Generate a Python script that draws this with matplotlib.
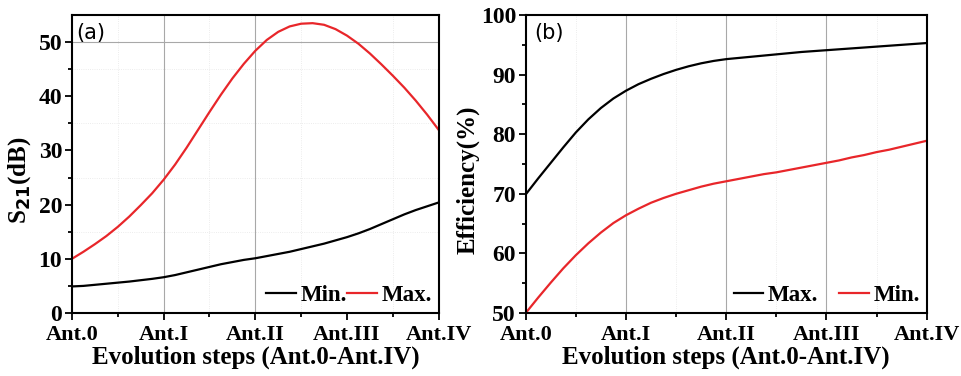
import numpy as np
import matplotlib.pyplot as plt

plt.rcParams['font.family'] = 'Liberation Serif'
plt.rcParams['font.weight'] = 'bold'

# evolution steps (values read every eighth of a step)
steps = np.arange(0, 4.001, 0.125)
step_labels = ['Ant.0', 'Ant.I', 'Ant.II', 'Ant.III', 'Ant.IV']

# (a) S21 (dB)
s21_min = [4.9, 5.0, 5.2, 5.4, 5.6, 5.8, 6.05, 6.3, 6.6, 7.0, 7.5, 8.0, 8.5, 9.0, 9.4, 9.8,
		   10.1, 10.5, 10.9, 11.3, 11.8, 12.3, 12.8, 13.4, 14.0, 14.7, 15.5, 16.4, 17.3, 18.2, 19.0, 19.7, 20.4]
s21_max = [10.0, 11.3, 12.7, 14.2, 15.9, 17.8, 19.9, 22.1, 24.6, 27.4, 30.5, 33.8, 37.1, 40.3, 43.3, 46.0,
		   48.4, 50.4, 51.9, 52.9, 53.4, 53.5, 53.2, 52.4, 51.2, 49.7, 47.9, 45.9, 43.8, 41.6, 39.2, 36.6, 33.8]

# (b) Efficiency (%)
eff_max = [69.9, 72.6, 75.2, 77.8, 80.3, 82.5, 84.4, 86.0, 87.3, 88.4, 89.3, 90.1, 90.8, 91.4, 91.9, 92.3,
		   92.6, 92.8, 93.0, 93.2, 93.4, 93.6, 93.8, 93.95, 94.1, 94.25, 94.4, 94.55, 94.7, 94.85, 95.0, 95.15, 95.3]
eff_min = [50.0, 52.6, 55.1, 57.5, 59.7, 61.7, 63.5, 65.1, 66.4, 67.5, 68.5, 69.3, 70.0, 70.6, 71.2, 71.7,
		   72.1, 72.5, 72.9, 73.3, 73.6, 74.0, 74.4, 74.8, 75.2, 75.6, 76.1, 76.5, 77.0, 77.4, 77.9, 78.4, 78.9]

fig = plt.figure(figsize=(9.62, 3.76), dpi=100)
ax1 = fig.add_axes([0.0748, 0.1676, 0.3812, 0.7924])
ax2 = fig.add_axes([0.5465, 0.1676, 0.4168, 0.7924])

grid_col = '#a8a8a8'
faint_col = '#e6e6e6'

def style(ax, ylim, yticks, ylabel, tag, tagx, labx):
	ax.set_xlim(0, 4)
	ax.set_ylim(*ylim)
	ax.set_xticks(range(5))
	ax.set_xticklabels(step_labels)
	ax.set_xticks(np.arange(0.5, 4, 1), minor=True)
	ax.set_yticks(yticks)
	ax.set_yticks(np.array(yticks[:-1]) + 5, minor=True)
	ax.tick_params(which='both', direction='out', top=False, right=False, width=1.3)
	ax.tick_params(axis='x', labelsize=16, pad=4)
	ax.tick_params(axis='y', labelsize=17, pad=2)
	ax.tick_params(which='major', length=5)
	ax.tick_params(which='minor', length=3)
	for sp in ax.spines.values():
		sp.set_linewidth(1.5)
	ax.set_xlabel('Evolution steps (Ant.0-Ant.IV)', fontsize=18, fontweight='bold', labelpad=0)
	ax.set_ylabel(ylabel, fontsize=18, fontweight='bold')
	ax.yaxis.set_label_coords(labx, 0.446)
	ax.text(tagx, 0.94, tag, transform=ax.transAxes, fontsize=15, fontweight='normal',
			family='DejaVu Sans', va='center')

# panel (a)
for xg in [0.5, 1.5, 2.5, 3.5]:
	ax1.axvline(xg, color=faint_col, lw=0.6, ls=':', zorder=0)
for yg in [15, 25, 35, 45]:
	ax1.axhline(yg, color=faint_col, lw=0.6, ls=':', zorder=0)
for xg in [1, 2]:
	ax1.axvline(xg, color=grid_col, lw=0.8, zorder=0)
ax1.axhline(50, color=grid_col, lw=0.8, zorder=0)
ax1.plot(steps, s21_min, color='black', lw=1.6, label='Min.')
ax1.plot(steps, s21_max, color='#e8262a', lw=1.6, label='Max.')
style(ax1, (0, 55), [0, 10, 20, 30, 40, 50], 'S$_{\\mathbf{21}}$(dB)', '(a)', 0.012, -0.106)
ax1.legend(loc='lower right', ncol=2, frameon=False, fontsize=16.5, handlelength=1.3,
		   handletextpad=0.2, columnspacing=0.0, borderaxespad=0.1, borderpad=0.2)

# panel (b)
for xg in [0.5, 1.5, 2.5, 3.5]:
	ax2.axvline(xg, color=faint_col, lw=0.6, ls=':', zorder=0)
for xg in [1, 2, 3]:
	ax2.axvline(xg, color=grid_col, lw=0.8, zorder=0)
ax2.plot(steps, eff_max, color='black', lw=1.6, label='Max.')
ax2.plot(steps, eff_min, color='#e8262a', lw=1.6, label='Min.')
style(ax2, (50, 100), [50, 60, 70, 80, 90, 100], 'Efficiency(%)', '(b)', 0.022, -0.114)
ax2.legend(loc='lower right', ncol=2, frameon=False, fontsize=16.5, handlelength=1.3,
		   handletextpad=0.2, columnspacing=0.9, borderaxespad=0.1, borderpad=0.2)

plt.savefig('out.png', dpi=100)
